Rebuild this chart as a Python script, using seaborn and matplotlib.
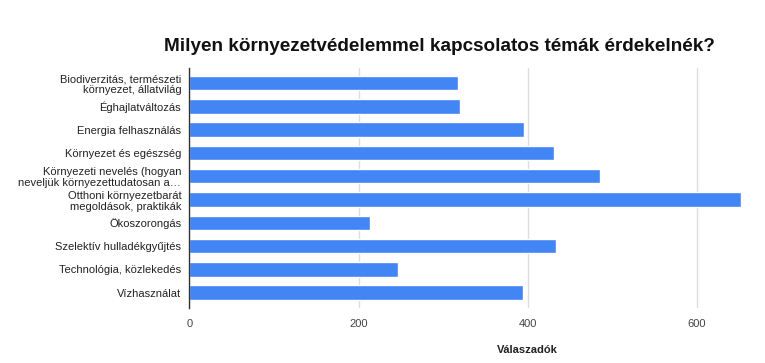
#!/usr/bin/env python3
import pandas as pd
import seaborn as sns
import matplotlib.pyplot as plt

# Topics and number of respondents
topics = [
    "Biodiverzitás, természeti\nkörnyezet, állatvilág",
    "Éghajlatváltozás",
    "Energia felhasználás",
    "Környezet és egészség",
    "Környezeti nevelés (hogyan\nneveljük környezettudatosan a…",
    "Otthoni környezetbarát\nmegoldások, praktikák",
    "Ökoszorongás",
    "Szelektív hulladékgyűjtés",
    "Technológia, közlekedés",
    "Vízhasználat",
]
counts = [317, 320, 396, 431, 485, 652, 214, 433, 247, 395]
x_ticks = [0, 200, 400, 600]


def plot_chart():
    df = pd.DataFrame({"Téma": topics, "Válaszadók": counts})
    sns.set_theme(style="white")
    plt.rcParams["font.family"] = ["Liberation Sans", "DejaVu Sans"]

    fig = plt.figure(figsize=(7.65, 3.63), dpi=100)
    ax = fig.add_axes([0.2477, 0.152, 0.724, 0.661])

    sns.barplot(data=df, x="Válaszadók", y="Téma", color="#4285F4",
                saturation=1, width=0.62, ax=ax, zorder=3)

    ax.set_xlim(0, 655)
    ax.set_ylim(9.65, -0.65)
    ax.set_xticks(x_ticks)
    ax.grid(axis="x", color="#dddddd", linewidth=1, zorder=0)
    ax.set_axisbelow(True)
    sns.despine(ax=ax, top=True, right=True, bottom=True)
    # spine on top of the bars so it reads as one continuous line
    ax.spines["left"].set_color("#333333")
    ax.spines["left"].set_linewidth(1)
    ax.spines["left"].set_zorder(5)
    ax.tick_params(axis="y", left=False, length=0, labelsize=8,
                   labelcolor="#222222", pad=6)
    ax.tick_params(axis="x", bottom=False, length=0, labelsize=8,
                   labelcolor="#444444", pad=8)
    for lbl in ax.get_yticklabels():
        lbl.set_linespacing(1.15)

    ax.set_ylabel("")
    ax.set_xlabel("Válaszadók", fontsize=8, fontweight="bold", color="#222222")
    ax.xaxis.set_label_coords(0.61, -0.155)

    fig.text(0.574, 0.872, "Milyen környezetvédelemmel kapcsolatos témák érdekelnék?",
             ha="center", va="center", fontsize=13.6, fontweight="bold",
             color="#111111")

    fig.savefig("out.png", dpi=100)


def main():
    plot_chart()


if __name__ == "__main__":
    main()
